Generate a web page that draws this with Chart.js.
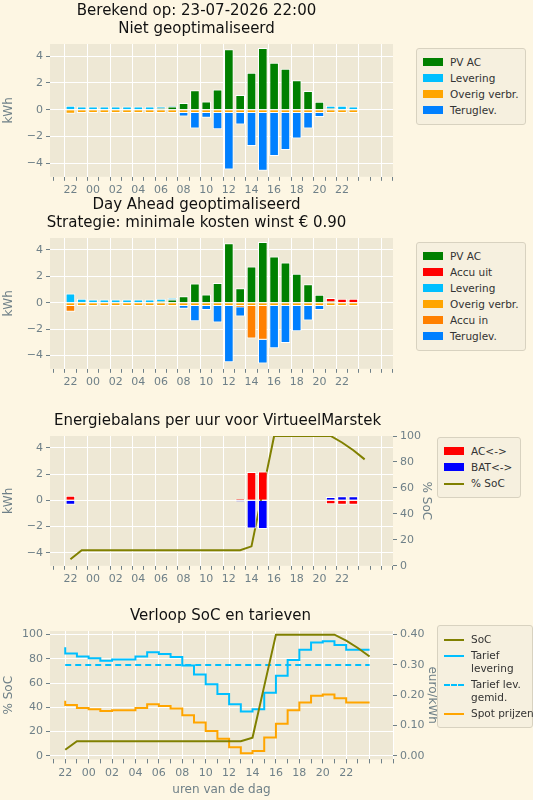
<!DOCTYPE html>
<html lang="nl">
<head>
  <meta charset="UTF-8" />
  <title>Energie</title>
  <script src="https://cdn.jsdelivr.net/npm/chart.js"></script>
  <style>
    body { margin: 0; background: #fdf6e3; font-family: "DejaVu Sans", sans-serif; }
    #wrap { position: relative; width: 533px; height: 800px; }
    .cv { position: absolute; left: 0; width: 533px; }
    .legend {
      position: absolute; border: 1px solid #d8d2c0; border-radius: 3px;
      background: #f6f0df; padding: 4px 6px; font-size: 10.5px; color: #333; white-space: nowrap;
    }
    .legend div { display: flex; align-items: flex-start; margin: 3px 0; line-height: 13px; }
    .legend span.p { display: inline-block; width: 20px; height: 8px; margin: 2px 7px 0 0; flex: none; }
    .legend span.l { display: inline-block; width: 20px; height: 0; margin: 6px 7px 0 0; flex: none; border-top: 2px solid; }
  </style>
</head>
<body>
<div id="wrap">
  <canvas id="c1" class="cv" style="top:2px" width="533" height="198"></canvas>
  <canvas id="c2" class="cv" style="top:196px" width="533" height="196"></canvas>
  <canvas id="c3" class="cv" style="top:412px" width="533" height="177"></canvas>
  <canvas id="c4" class="cv" style="top:607px" width="533" height="190"></canvas>

  <div class="legend" style="left:416px;top:48px;width:96px">
    <div><span class="p" style="background:#008000"></span>PV AC</div>
    <div><span class="p" style="background:#00bfff"></span>Levering</div>
    <div><span class="p" style="background:#ffa500"></span>Overig verbr.</div>
    <div><span class="p" style="background:#0080ff"></span>Teruglev.</div>
  </div>
  <div class="legend" style="left:416px;top:242px;width:96px">
    <div><span class="p" style="background:#008000"></span>PV AC</div>
    <div><span class="p" style="background:#ff0000"></span>Accu uit</div>
    <div><span class="p" style="background:#00bfff"></span>Levering</div>
    <div><span class="p" style="background:#ffa500"></span>Overig verbr.</div>
    <div><span class="p" style="background:#ff8000"></span>Accu in</div>
    <div><span class="p" style="background:#0080ff"></span>Teruglev.</div>
  </div>
  <div class="legend" style="left:437px;top:437px;width:70px">
    <div><span class="p" style="background:#ff0000"></span>AC&lt;-&gt;</div>
    <div><span class="p" style="background:#0000ff"></span>BAT&lt;-&gt;</div>
    <div><span class="l" style="border-color:#808000"></span>% SoC</div>
  </div>
  <div class="legend" style="left:437px;top:625px;width:82px">
    <div><span class="l" style="border-color:#808000"></span>SoC</div>
    <div><span class="l" style="border-color:#00bfff"></span>Tarief<br>levering</div>
    <div><span class="l" style="border-color:#00bfff;border-top-style:dashed"></span>Tarief lev.<br>gemid.</div>
    <div><span class="l" style="border-color:#ffa500"></span>Spot prijzen</div>
  </div>
</div>
<script>
  // uren: index 0 = 22:00 van de vorige dag, 26 uren
  const hours = [22, 23, 0, 1, 2, 3, 4, 5, 6, 7, 8, 9, 10, 11, 12, 13, 14, 15, 16, 17, 18, 19, 20, 21, 22, 23];

  // Niet geoptimaliseerd
  const pvAc     = [0, 0, 0, 0, 0, 0, 0, 0, 0.1, 0.25, 0.5, 1.45, 0.62, 1.5, 4.5, 1.1, 2.75, 4.6, 3.5, 3.05, 2.2, 1.4, 0.6, 0.1, 0, 0];
  const lev1     = [0.3, 0.25, 0.25, 0.25, 0.25, 0.25, 0.25, 0.25, 0.15, 0.05, 0, 0, 0, 0, 0, 0, 0, 0, 0, 0, 0, 0, 0, 0.2, 0.3, 0.25];
  const overig1  = [-0.3, -0.25, -0.25, -0.25, -0.25, -0.25, -0.25, -0.25, -0.25, -0.25, -0.25, -0.25, -0.25, -0.25, -0.25, -0.25, -0.25, -0.25, -0.25, -0.25, -0.25, -0.25, -0.25, -0.25, -0.25, -0.25];
  const terug1   = [0, 0, 0, 0, 0, 0, 0, 0, 0, 0, -0.25, -1.15, -0.35, -1.2, -4.2, -0.85, -2.45, -4.3, -3.2, -2.75, -1.9, -1.15, -0.3, 0, 0, 0];

  // Day Ahead geoptimaliseerd
  const accuUit  = [0, 0, 0, 0, 0, 0, 0, 0, 0, 0, 0, 0, 0, 0, 0, 0, 0, 0, 0, 0, 0, 0, 0, 0.25, 0.3, 0.3];
  const lev2     = [0.7, 0.3, 0.25, 0.25, 0.25, 0.25, 0.25, 0.25, 0.2, 0.1, 0, 0, 0, 0, 0, 0, 0, 0, 0, 0, 0, 0, 0, 0, 0, 0];
  const overig2  = [-0.25, -0.25, -0.25, -0.25, -0.25, -0.25, -0.25, -0.25, -0.25, -0.25, -0.25, -0.25, -0.25, -0.25, -0.25, -0.25, -0.25, -0.25, -0.25, -0.25, -0.25, -0.25, -0.25, -0.25, -0.25, -0.25];
  const accuIn   = [-0.43, 0, 0, 0, 0, 0, 0, 0, 0, 0, 0, 0, 0, 0, 0, -0.1, -2.45, -2.55, 0, 0, 0, 0, 0, 0, 0, 0];
  const terug2   = [0, 0, 0, 0, 0, 0, 0, 0, 0, 0, -0.2, -1.15, -0.3, -1.25, -4.25, -0.7, 0, -1.8, -3.2, -2.8, -1.9, -1.1, -0.3, 0, 0, 0];

  // Energiebalans batterij
  const acBal    = [0.35, 0, 0, 0, 0, 0, 0, 0, 0, 0, 0, 0, 0, 0, 0, 0.1, 2.15, 2.2, 0, 0, 0, 0, 0, -0.3, -0.35, -0.35];
  const batBal   = [-0.35, 0, 0, 0, 0, 0, 0, 0, 0, 0, 0, 0, 0, 0, 0, -0.1, -2.15, -2.2, 0, 0, 0, 0, 0, 0.25, 0.3, 0.3];
  const soc      = [5, 12, 12, 12, 12, 12, 12, 12, 12, 12, 12, 12, 12, 12, 12, 12, 15, 57.5, 100, 100, 100, 100, 100, 100, 95, 89, 82];

  // Tarieven (euro/kWh)
  const tarief   = [0.358, 0.338, 0.328, 0.322, 0.314, 0.318, 0.318, 0.328, 0.342, 0.336, 0.326, 0.298, 0.268, 0.236, 0.204, 0.17, 0.146, 0.154, 0.208, 0.264, 0.316, 0.35, 0.374, 0.378, 0.366, 0.35];
  const tariefGem = 0.30;
  const spot     = [0.182, 0.168, 0.158, 0.154, 0.148, 0.15, 0.15, 0.158, 0.17, 0.164, 0.156, 0.134, 0.11, 0.082, 0.056, 0.028, 0.008, 0.016, 0.06, 0.106, 0.15, 0.176, 0.198, 0.202, 0.19, 0.176];

  // tick labels
  const kwhTicks = [-4, -2, 0, 2, 4];
  const socTicks = [0, 20, 40, 60, 80, 100];
  const euroTicks = [0, 0.1, 0.2, 0.3, 0.4];

  const TICK = '#6f8088';
  const FONT = { family: 'DejaVu Sans', size: 11 };
  const pts = arr => arr.map((v, i) => ({ x: i, y: v }));
  const stepPts = arr => pts(arr).concat([{ x: arr.length, y: arr[arr.length - 1] }]);

  function xAxis(withTitle) {
    return {
      type: 'linear', min: -1.3, max: 28, stacked: true,
      afterBuildTicks: s => { s.ticks = []; for (let i = -1; i <= 28; i++) s.ticks.push({ value: i }); },
      ticks: {
        autoSkip: false, color: TICK, font: FONT, maxRotation: 0,
        callback: v => (v >= 0 && v <= 24 && v % 2 === 0) ? String(hours[v]).padStart(2, '0') : ''
      },
      grid: {
        color: c => (c.tick && c.tick.value % 2 === 0) ? '#ffffff' : 'rgba(0,0,0,0)',
        tickColor: TICK, tickLength: 4
      },
      border: { display: false },
      title: { display: withTitle, text: 'uren van de dag', color: TICK, font: { family: 'DejaVu Sans', size: 12 }, padding: 0 }
    };
  }
  function yAxis(min, max, tickVals, title, pos, width, fmt, opts) {
    return Object.assign({
      position: pos, min: min, max: max,
      afterBuildTicks: s => { s.ticks = tickVals.map(v => ({ value: v })); },
      ticks: { color: TICK, font: FONT, autoSkip: false, callback: fmt },
      grid: { color: pos === 'left' ? '#ffffff' : 'rgba(0,0,0,0)', tickColor: TICK, tickLength: 4 },
      border: { display: false },
      title: { display: true, text: title, color: TICK, font: { family: 'DejaVu Sans', size: 12 }, padding: 2 },
      afterFit: s => { s.width = width; }
    }, opts || {});
  }
  const minus = v => String(v).replace('-', '\u2212');
  const bgPlugin = {
    id: 'bg',
    beforeDraw(chart) {
      const a = chart.chartArea, ctx = chart.ctx;
      ctx.save(); ctx.fillStyle = '#eee8d5';
      ctx.fillRect(a.left, a.top, a.right - a.left, a.bottom - a.top);
      ctx.restore();
    }
  };
  function bar(label, data, color) {
    return { type: 'bar', label: label, data: pts(data), backgroundColor: color, borderColor: '#ffffff',
      borderWidth: 1, barPercentage: 0.85, categoryPercentage: 1, stack: 's' };
  }
  function baseOpts(title, rightPad) {
    return {
      responsive: false, animation: false,
      layout: { padding: { right: rightPad, left: 0 } },
      plugins: {
        legend: { display: false }, tooltip: { enabled: false },
        title: { display: true, text: title, color: '#111', font: { family: 'DejaVu Sans', size: 15, weight: 'normal', lineHeight: 1.2 }, padding: { top: 0, bottom: 6 } }
      }
    };
  }

  // Grafiek 1
  const o1 = baseOpts(['Berekend op: 23-07-2026 22:00', 'Niet geoptimaliseerd'], 140);
  o1.scales = { x: xAxis(false), y: yAxis(-5, 4.9, kwhTicks, 'kWh', 'left', 50, minus, { stacked: true }) };
  new Chart(document.getElementById('c1'), {
    type: 'bar',
    data: { datasets: [bar('PV AC', pvAc, '#008000'), bar('Levering', lev1, '#00bfff'),
      bar('Overig verbr.', overig1, '#ffa500'), bar('Teruglev.', terug1, '#0080ff')] },
    options: o1, plugins: [bgPlugin]
  });

  // Grafiek 2
  const o2 = baseOpts(['Day Ahead geoptimaliseerd', 'Strategie: minimale kosten winst \u20ac 0.90'], 140);
  o2.scales = { x: xAxis(false), y: yAxis(-5, 4.9, kwhTicks, 'kWh', 'left', 50, minus, { stacked: true }) };
  new Chart(document.getElementById('c2'), {
    type: 'bar',
    data: { datasets: [bar('PV AC', pvAc, '#008000'), bar('Accu uit', accuUit, '#ff0000'), bar('Levering', lev2, '#00bfff'),
      bar('Overig verbr.', overig2, '#ffa500'), bar('Accu in', accuIn, '#ff8000'), bar('Teruglev.', terug2, '#0080ff')] },
    options: o2, plugins: [bgPlugin]
  });

  // Grafiek 3
  const o3 = baseOpts('Energiebalans per uur voor VirtueelMarstek', 98);
  o3.scales = {
    x: xAxis(false),
    y: yAxis(-5, 4.9, kwhTicks, 'kWh', 'left', 50, minus, { stacked: true }),
    y2: yAxis(0, 100, socTicks, '% SoC', 'right', 42, v => v)
  };
  new Chart(document.getElementById('c3'), {
    type: 'bar',
    data: { datasets: [bar('AC<->', acBal, '#ff0000'), bar('BAT<->', batBal, '#0000ff'),
      { type: 'line', label: '% SoC', data: pts(soc), yAxisID: 'y2', borderColor: '#808000', borderWidth: 2, pointRadius: 0, tension: 0 }] },
    options: o3, plugins: [bgPlugin]
  });

  // Grafiek 4
  const o4 = baseOpts('Verloop SoC en tarieven', 92);
  o4.scales = {
    x: xAxis(true),
    y: yAxis(-3, 103, socTicks, '% SoC', 'left', 50, v => v),
    y2: yAxis(-0.012, 0.412, euroTicks, 'euro/kWh', 'right', 48, v => v.toFixed(2))
  };
  new Chart(document.getElementById('c4'), {
    type: 'line',
    data: { datasets: [
      { label: 'SoC', data: pts(soc), borderColor: '#808000', borderWidth: 2, pointRadius: 0 },
      { label: 'Tarief levering', data: stepPts(tarief), yAxisID: 'y2', stepped: 'after', borderColor: '#00bfff', borderWidth: 2, pointRadius: 0 },
      { label: 'Tarief lev. gemid.', data: [{ x: 0, y: tariefGem }, { x: 26, y: tariefGem }], yAxisID: 'y2', borderColor: '#00bfff', borderWidth: 2, borderDash: [6, 4], pointRadius: 0 },
      { label: 'Spot prijzen', data: stepPts(spot), yAxisID: 'y2', stepped: 'after', borderColor: '#ffa500', borderWidth: 2, pointRadius: 0 }
    ] },
    options: o4, plugins: [bgPlugin]
  });
</script>
</body>
</html>
